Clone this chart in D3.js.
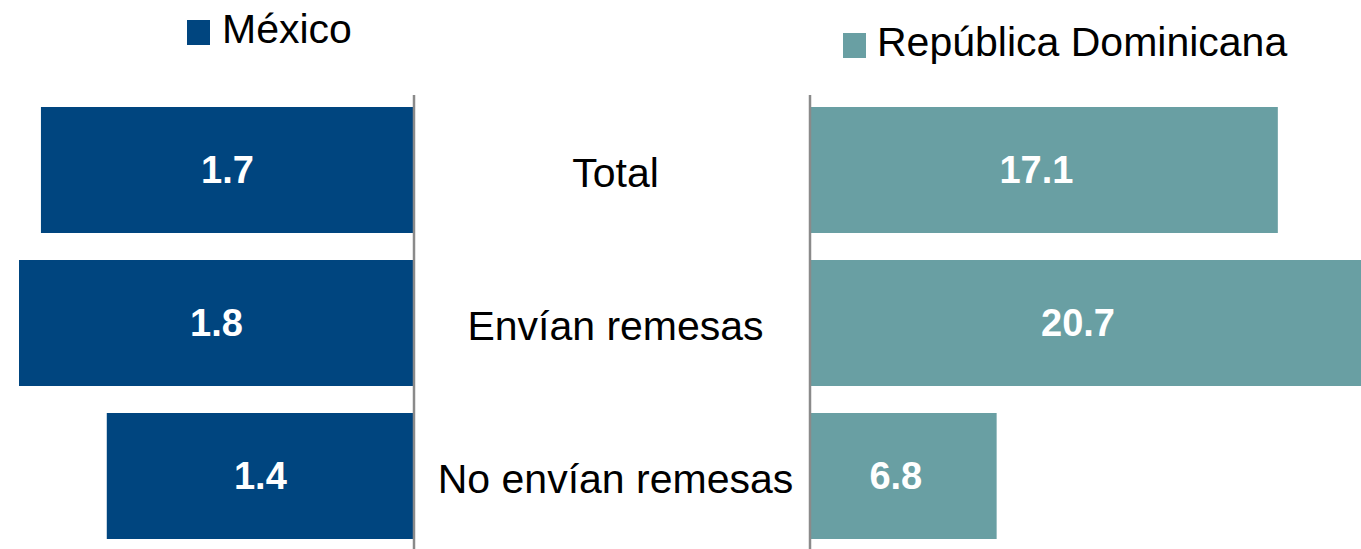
<!DOCTYPE html>
<html>
<head>
<meta charset="utf-8">
<script src="https://cdn.jsdelivr.net/npm/d3@7"></script>
<style>
  html, body { margin: 0; padding: 0; background: #fff; }
  svg { display: block; font-family: "Liberation Sans", Arial, sans-serif; }
</style>
</head>
<body>
<svg id="chart" width="1361" height="549"></svg>
<script>
const categories = ["Total", "Envían remesas", "No envían remesas"];
const mexico = [1.7, 1.8, 1.4];
const dominicana = [17.1, 20.7, 6.8];
const seriesNames = ["México", "República Dominicana"];
const colors = ["#00457F", "#699FA3"];

const W = 1361, H = 549;
const svg = d3.select("#chart");

const y = d3.scaleBand().domain(categories).range([107, 539]).paddingInner(27 / 153).paddingOuter(0);
const xL = d3.scaleLinear().domain([0, 1.8]).range([414, 19]);
const xR = d3.scaleLinear().domain([0, 20]).range([811, 1357]);

svg.append("defs").append("clipPath").attr("id", "clip")
  .append("rect").attr("x", 0).attr("y", 0).attr("width", W).attr("height", H);

const g = svg.append("g").attr("clip-path", "url(#clip)");

// Mexico bars
g.selectAll("rect.mx").data(categories).join("rect").attr("class", "mx")
  .attr("x", (d, i) => xL(mexico[i]))
  .attr("y", d => y(d))
  .attr("width", (d, i) => xL(0) - xL(mexico[i]))
  .attr("height", y.bandwidth())
  .attr("fill", colors[0]);

// Dominicana bars
g.selectAll("rect.rd").data(categories).join("rect").attr("class", "rd")
  .attr("x", xR(0))
  .attr("y", d => y(d))
  .attr("width", (d, i) => xR(dominicana[i]) - xR(0))
  .attr("height", y.bandwidth())
  .attr("fill", colors[1]);

// axis lines
svg.append("line").attr("x1", xL(0)).attr("x2", xL(0)).attr("y1", 95).attr("y2", H)
  .attr("stroke", "#8a8a8a").attr("stroke-width", 2.5);
svg.append("line").attr("x1", xR(0) - 1).attr("x2", xR(0) - 1).attr("y1", 95).attr("y2", H)
  .attr("stroke", "#8a8a8a").attr("stroke-width", 2.5);

// value labels
const fmt = d3.format(".1f");
svg.selectAll("text.vmx").data(categories).join("text").attr("class", "vmx")
  .attr("x", (d, i) => (xL(mexico[i]) + xL(0)) / 2)
  .attr("y", d => y(d) + y.bandwidth() / 2 + 13)
  .attr("text-anchor", "middle").attr("fill", "#fff")
  .attr("font-weight", "bold").attr("font-size", 38)
  .text((d, i) => fmt(mexico[i]));

svg.selectAll("text.vrd").data(categories).join("text").attr("class", "vrd")
  .attr("x", (d, i) => (xR(0) + Math.min(xR(dominicana[i]), W)) / 2 - 8)
  .attr("y", d => y(d) + y.bandwidth() / 2 + 13)
  .attr("text-anchor", "middle").attr("fill", "#fff")
  .attr("font-weight", "bold").attr("font-size", 38)
  .text((d, i) => fmt(dominicana[i]));

// category labels
svg.selectAll("text.cat").data(categories).join("text").attr("class", "cat")
  .attr("x", (xL(0) + xR(0)) / 2 + 3)
  .attr("y", d => y(d) + y.bandwidth() / 2 + 17)
  .attr("text-anchor", "middle").attr("fill", "#000")
  .attr("font-size", 41)
  .text(d => d);

// legend
const legend = [
  { name: seriesNames[0], color: colors[0], sx: 187, sy: 20, tx: 222, ty: 43 },
  { name: seriesNames[1], color: colors[1], sx: 843, sy: 33, tx: 877, ty: 56 }
];
legend.forEach(l => {
  svg.append("rect").attr("x", l.sx).attr("y", l.sy).attr("width", 23).attr("height", 25).attr("fill", l.color);
  svg.append("text").attr("x", l.tx).attr("y", l.ty).attr("font-size", 41).attr("fill", "#000").text(l.name);
});
</script>
</body>
</html>
